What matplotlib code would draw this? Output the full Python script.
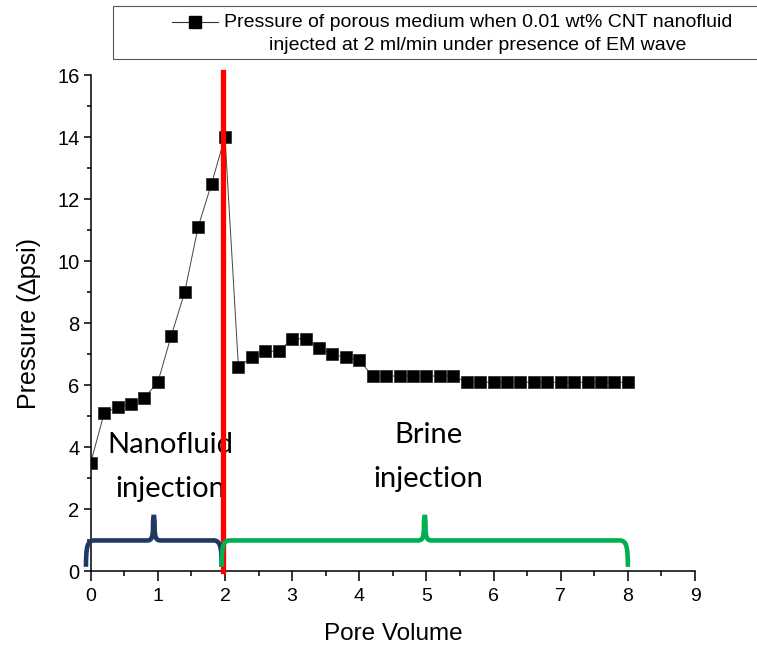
import matplotlib
matplotlib.use('Agg')
import matplotlib.pyplot as plt
from matplotlib.path import Path
from matplotlib.patches import PathPatch, Rectangle
from matplotlib.lines import Line2D
from matplotlib.ticker import MultipleLocator

# data
pore_volume = [0.0, 0.2, 0.4, 0.6, 0.8, 1.0, 1.2, 1.4, 1.6, 1.8, 2.0,
               2.2, 2.4, 2.6, 2.8, 3.0, 3.2, 3.4, 3.6, 3.8, 4.0,
               4.2, 4.4, 4.6, 4.8, 5.0, 5.2, 5.4,
               5.6, 5.8, 6.0, 6.2, 6.4, 6.6, 6.8, 7.0, 7.2, 7.4, 7.6, 7.8, 8.0]
pressure = [3.5, 5.1, 5.3, 5.4, 5.6, 6.1, 7.6, 9.0, 11.1, 12.5, 14.0,
            6.6, 6.9, 7.1, 7.1, 7.5, 7.5, 7.2, 7.0, 6.9, 6.8,
            6.3, 6.3, 6.3, 6.3, 6.3, 6.3, 6.3,
            6.1, 6.1, 6.1, 6.1, 6.1, 6.1, 6.1, 6.1, 6.1, 6.1, 6.1, 6.1, 6.1]
switch_pv = 1.97
nano_span = (-0.07, 1.95)
brine_span = (1.95, 8.0)
series_label = ('Pressure of porous medium when 0.01 wt% CNT nanofluid\n'
                'injected at 2 ml/min under presence of EM wave')

plt.rcParams['font.family'] = ['Liberation Sans', 'DejaVu Sans']

fig = plt.figure(figsize=(7.57, 6.5), dpi=100)
ax = fig.add_axes([0.1198, 0.1208, 0.9181 - 0.1198, 0.8846 - 0.1208])

ax.plot(pore_volume, pressure, '-', color='#444444', lw=0.7, zorder=3)
ax.plot(pore_volume, pressure, 's', color='black', ms=8, mec='#222222', mew=0.5, zorder=4)
ax.plot([switch_pv, switch_pv], [0, 16.1], color='#ff0000', lw=3.8, clip_on=False, zorder=5)


def brace(x0, x1, y_bot=0.15, y_top=1.0, y_peak=1.88):
    xm = (x0 + x1) / 2
    e = 0.12
    h = 0.1
    s = 0.012
    verts = [
        (x0, y_bot),
        (x0, 0.8), (x0 + 0.02, y_top), (x0 + e, y_top),
        (xm - h, y_top),
        (xm - s - 0.02, y_top), (xm - s, 1.1), (xm - s, 1.45),
        (xm - s, y_peak), (xm + s, y_peak), (xm + s, 1.45),
        (xm + s, 1.1), (xm + s + 0.02, y_top), (xm + h, y_top),
        (x1 - e, y_top),
        (x1 - 0.02, y_top), (x1, 0.8), (x1, y_bot),
    ]
    codes = [Path.MOVETO,
             Path.CURVE4, Path.CURVE4, Path.CURVE4,
             Path.LINETO,
             Path.CURVE4, Path.CURVE4, Path.CURVE4,
             Path.CURVE4, Path.CURVE4, Path.CURVE4,
             Path.CURVE4, Path.CURVE4, Path.CURVE4,
             Path.LINETO,
             Path.CURVE4, Path.CURVE4, Path.CURVE4]
    return Path(verts, codes)


ax.add_patch(PathPatch(brace(*nano_span), fill=False, ec='#203864', lw=3.3,
                       clip_on=False, zorder=6))
ax.add_patch(PathPatch(brace(*brine_span), fill=False, ec='#00b050', lw=3.3,
                       clip_on=False, zorder=6))

lab_font = dict(family=['Lato', 'DejaVu Sans'], fontsize=21, ha='center', va='baseline')
ax.text(1.18, 3.82, 'Nanofluid', zorder=2, **lab_font)
ax.text(1.18, 2.40, 'injection', zorder=2, **lab_font)
ax.text(5.03, 4.14, 'Brine', **lab_font)
ax.text(5.03, 2.73, 'injection', **lab_font)

ax.set_xlim(0, 9)
ax.set_ylim(0, 16)
ax.xaxis.set_major_locator(MultipleLocator(1))
ax.xaxis.set_minor_locator(MultipleLocator(0.5))
ax.yaxis.set_major_locator(MultipleLocator(2))
ax.yaxis.set_minor_locator(MultipleLocator(1))
for side in ['top', 'right']:
    ax.spines[side].set_visible(False)
for side in ['left', 'bottom']:
    ax.spines[side].set_linewidth(1.1)
ax.tick_params(axis='x', which='major', length=7, width=1.1, labelsize=14, pad=5)
ax.tick_params(axis='x', which='minor', length=3.5, width=1.1)
ax.tick_params(axis='y', which='major', length=5, width=1.1, labelsize=14.5, pad=3)
ax.tick_params(axis='y', which='minor', length=3, width=1.1)
ax.set_xlabel('Pore Volume', fontsize=17.5, labelpad=13)
ax.set_ylabel('Pressure (\u2206psi)', fontsize=18, labelpad=12)

# legend drawn by hand so its box can run off the right edge like the original
W, H = 757.0, 650.0
fig.add_artist(Rectangle((113 / W, 1 - 59 / H), 700 / W, 53 / H, transform=fig.transFigure,
                         fill=False, ec='#555555', lw=0.8, clip_on=False))
fig.add_artist(Line2D([172 / W, 218 / W], [1 - 22 / H, 1 - 22 / H], transform=fig.transFigure,
                      color='#333333', lw=0.8))
fig.add_artist(Line2D([195 / W], [1 - 22 / H], transform=fig.transFigure, marker='s',
                      ms=8, color='black', ls='none'))
fig.text(478 / W, 1 - 34 / H, series_label, fontsize=14, ha='center', va='center',
         multialignment='center', linespacing=1.45)

fig.savefig('out.png', dpi=100)
